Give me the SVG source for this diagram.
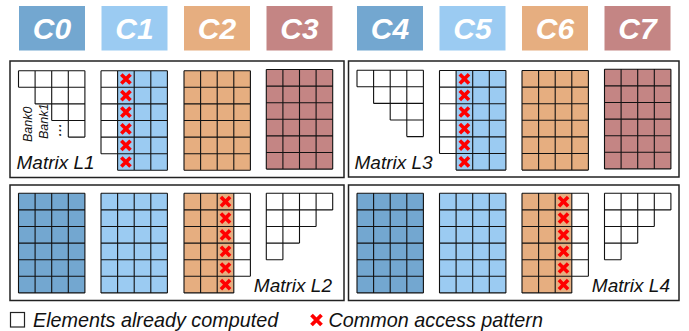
<svg xmlns="http://www.w3.org/2000/svg" xmlns:xlink="http://www.w3.org/1999/xlink" width="689" height="331" viewBox="0 0 689 331">
<style>
.hdr{stroke:none}
.ht{font-family:"Liberation Sans",Arial,sans-serif;font-weight:bold;font-style:italic;font-size:30px;fill:#fff;text-anchor:middle}
.lbl{font-family:"Liberation Sans",Arial,sans-serif;font-style:italic;font-size:19px;fill:#111}
.leg{font-family:"Liberation Sans",Arial,sans-serif;font-style:italic;font-size:19.8px;fill:#111}
.bank{font-family:"Liberation Sans",Arial,sans-serif;font-style:italic;font-size:12.5px;fill:#111}
.panel{fill:none;stroke:#222;stroke-width:1.5}
.gl{fill:none;stroke:#111;stroke-width:1.1}
.c0{fill:#73A7D0}.c1{fill:#9BCBF2}.c2{fill:#E6AE80}.c3{fill:#C48584}
</style>
<defs>
<path id="x" d="M-4.6,-4.6L4.6,4.6M4.6,-4.6L-4.6,4.6" fill="none" stroke="#f00" stroke-width="3.6"/>
<g id="full">
<rect width="66.4" height="99.6"/>
<path class="gl" d="M0 0H66.4M0 16.6H66.4M0 33.2H66.4M0 49.8H66.4M0 66.4H66.4M0 83H66.4M0 99.6H66.4M0 0V99.6M16.6 0V99.6M33.2 0V99.6M49.8 0V99.6M66.4 0V99.6"/>
</g>
<g id="p1">
<rect x="16.6" width="49.8" height="99.6"/>
<rect width="16.6" height="83" fill="#fff"/>
<path class="gl" d="M16.6 0H66.4M16.6 16.6H66.4M16.6 33.2H66.4M16.6 49.8H66.4M16.6 66.4H66.4M16.6 83H66.4M16.6 99.6H66.4M16.6 0V99.6M33.2 0V99.6M49.8 0V99.6M66.4 0V99.6M0 0H16.6M0 16.6H16.6M0 33.2H16.6M0 49.8H16.6M0 66.4H16.6M0 83H16.6M0 0V83"/>
<use xlink:href="#x" x="24.9" y="8.3"/><use xlink:href="#x" x="24.9" y="24.9"/><use xlink:href="#x" x="24.9" y="41.5"/><use xlink:href="#x" x="24.9" y="58.1"/><use xlink:href="#x" x="24.9" y="74.7"/><use xlink:href="#x" x="24.9" y="91.3"/>
</g>
<g id="p2">
<rect width="49.8" height="99.6"/>
<rect x="49.8" width="16.6" height="83" fill="#fff"/>
<path class="gl" d="M0 0H49.8M0 16.6H49.8M0 33.2H49.8M0 49.8H49.8M0 66.4H49.8M0 83H49.8M0 99.6H49.8M0 0V99.6M16.6 0V99.6M33.2 0V99.6M49.8 0V99.6M49.8 0H66.4M49.8 16.6H66.4M49.8 33.2H66.4M49.8 49.8H66.4M49.8 66.4H66.4M49.8 83H66.4M66.4 0V83"/>
<use xlink:href="#x" x="41.5" y="8.3"/><use xlink:href="#x" x="41.5" y="24.9"/><use xlink:href="#x" x="41.5" y="41.5"/><use xlink:href="#x" x="41.5" y="58.1"/><use xlink:href="#x" x="41.5" y="74.7"/><use xlink:href="#x" x="41.5" y="91.3"/>
</g>
<path id="tu" class="gl" d="M0 0H66.4M0 16.6H66.4M16.6 33.2H66.4M33.2 49.8H66.4M49.8 66.4H66.4M0 0V16.6M16.6 0V33.2M33.2 0V49.8M49.8 0V66.4M66.4 0V66.4"/>
<path id="tl" class="gl" d="M0 0H66.4M0 16.6H66.4M0 33.2H49.8M0 49.8H33.2M0 66.4H16.6M0 0V66.4M16.6 0V66.4M33.2 0V49.8M49.8 0V33.2M66.4 0V16.6"/>
</defs>
<rect width="689" height="331" fill="#fff"/>

<g id="headers">
<g id="C0"><rect class="hdr c0" x="19" y="6" width="66" height="44.5"/><text class="ht" x="52" y="38.5">C0</text></g>
<g id="C1"><rect class="hdr c1" x="101.5" y="6" width="66" height="44.5"/><text class="ht" x="134.5" y="38.5">C1</text></g>
<g id="C2"><rect class="hdr c2" x="184" y="6" width="66" height="44.5"/><text class="ht" x="217" y="38.5">C2</text></g>
<g id="C3"><rect class="hdr c3" x="266.5" y="6" width="66" height="44.5"/><text class="ht" x="299.5" y="38.5">C3</text></g>
<g id="C4"><rect class="hdr c0" x="357" y="6" width="66" height="44.5"/><text class="ht" x="390" y="38.5">C4</text></g>
<g id="C5"><rect class="hdr c1" x="439.5" y="6" width="66" height="44.5"/><text class="ht" x="472.5" y="38.5">C5</text></g>
<g id="C6"><rect class="hdr c2" x="522" y="6" width="66" height="44.5"/><text class="ht" x="555" y="38.5">C6</text></g>
<g id="C7"><rect class="hdr c3" x="604.5" y="6" width="66" height="44.5"/><text class="ht" x="637.5" y="38.5">C7</text></g>
</g>

<g id="matrixL1">
<rect class="panel" x="10" y="61" width="334" height="116.5"/>
<use xlink:href="#tu" x="18.5" y="70.7"/>
<text class="bank" transform="translate(31.5,142) rotate(-90)">Bank0</text>
<text class="bank" transform="translate(48,139) rotate(-90)">Bank1</text>
<text class="bank" style="font-size:16px" transform="translate(61,136.5) rotate(-90)">...</text>
<use xlink:href="#p1" class="c1" x="101" y="70.7"/>
<use xlink:href="#full" class="c2" x="184" y="70.7"/>
<use xlink:href="#full" class="c3" x="266.3" y="69.5"/>
<text class="lbl" x="16.5" y="169">Matrix L1</text>
</g>

<g id="matrixL3">
<rect class="panel" x="348.5" y="61" width="330.5" height="116"/>
<use xlink:href="#tu" x="357" y="70.2"/>
<use xlink:href="#p1" class="c1" x="439.5" y="70.5"/>
<use xlink:href="#full" class="c2" x="522" y="70.5"/>
<use xlink:href="#full" class="c3" x="604.5" y="69.3"/>
<text class="lbl" x="354.5" y="168.5">Matrix L3</text>
</g>

<g id="matrixL2">
<rect class="panel" x="10" y="185" width="334" height="115.5"/>
<use xlink:href="#full" class="c0" x="18.5" y="193.3"/>
<use xlink:href="#full" class="c1" x="101" y="193.3"/>
<use xlink:href="#p2" class="c2" x="184" y="193.3"/>
<use xlink:href="#tl" x="266.3" y="193.3"/>
<text class="lbl" x="332" y="291.7" text-anchor="end">Matrix L2</text>
</g>

<g id="matrixL4">
<rect class="panel" x="348.5" y="185" width="330.5" height="115.5"/>
<use xlink:href="#full" class="c0" x="357" y="193.3"/>
<use xlink:href="#full" class="c1" x="439.5" y="193.3"/>
<use xlink:href="#p2" class="c2" x="522" y="193.3"/>
<use xlink:href="#tl" x="604.5" y="193.3"/>
<text class="lbl" x="670" y="291.7" text-anchor="end">Matrix L4</text>
</g>

<g id="legend">
<rect x="10.5" y="312.5" width="14" height="14.5" fill="#fff" stroke="#222" stroke-width="1.2"/>
<text class="leg" x="33" y="326.5">Elements already computed</text>
<path d="M311.5,315L321.5,325M321.5,315L311.5,325" fill="none" stroke="#f00" stroke-width="3.8"/>
<text class="leg" x="328.5" y="326.5">Common access pattern</text>
</g>
<g id="connectors"/>
</svg>
